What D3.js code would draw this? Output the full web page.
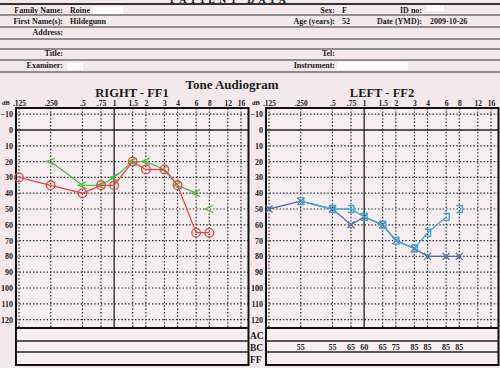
<!DOCTYPE html>
<html>
<head>
<meta charset="utf-8">
<script src="https://cdn.jsdelivr.net/npm/d3@7"></script>
<style>
  body { margin: 0; background: #f3e9ec; }
  svg { display: block; }
  text { font-family: "Liberation Serif", "DejaVu Serif", serif; font-weight: bold; fill: #1a1a1a; }
</style>
</head>
<body>
<svg id="chart"></svg>
<script>
// DATA
const freqs = [0.125, 0.25, 0.5, 0.75, 1, 1.5, 2, 3, 4, 6, 8, 12, 16];
const freqLabels = [".125", ".250", ".5", ".75", "1", "1.5", "2", "3", "4", "6", "8", "12", "16"];
const dbTicks = [-10, 0, 10, 20, 30, 40, 50, 60, 70, 80, 90, 100, 110, 120];
const rowLabels = ["AC", "BC", "FF"];

// right ear
const rightAcFreq = [0.125, 0.25, 0.5, 0.75, 1, 1.5, 2, 3, 4, 6, 8];
const rightAcDb = [30, 35, 40, 35, 35, 20, 25, 25, 35, 65, 65];
const rightBcFreq = [0.25, 0.5, 0.75, 1, 1.5, 2, 3, 4, 6];
const rightBcDb = [20, 35, 35, 30, 20, 20, 25, 35, 40];
const rightBcLoneFreq = [8];
const rightBcLoneDb = [50];

// left ear
const leftAcFreq = [0.125, 0.25, 0.5, 0.75, 1, 1.5, 2, 3, 4, 6, 8];
const leftAcDb = [50, 45, 50, 60, 55, 60, 70, 75, 80, 80, 80];
const leftBcFreq = [0.25, 0.5, 0.75, 1, 1.5, 2, 3, 4, 6];
const leftBcDb = [45, 50, 50, 55, 60, 70, 75, 65, 55];
const leftBcLoneFreq = [8];
const leftBcLoneDb = [50];

// BC row numbers under the left chart
const leftRowFreq = [0.25, 0.5, 0.75, 1, 1.5, 2, 3, 4, 6, 8];
const leftRowVals = [55, 55, 65, 60, 65, 75, 85, 85, 85, 85];

// header fields
const headerLeft = [
  { label: "Family Name:", value: "Roine", y: 13 },
  { label: "First Name(s):", value: "Hildegunn", y: 24 },
  { label: "Address:", value: "", y: 35 },
  { label: "Title:", value: "", y: 56 },
  { label: "Examiner:", value: "", y: 68 },
];
const headerMid = [
  { label: "Sex:", value: "F", y: 13 },
  { label: "Age (years):", value: "52", y: 24 },
  { label: "Tel:", value: "", y: 56 },
  { label: "Instrument:", value: "", y: 68 },
];
const headerRight = [
  { label: "ID no:", value: "", y: 13 },
  { label: "Date (YMD):", value: "2009-10-26", y: 24 },
];

// DIMENSIONS
const W = 500, H = 368;
const svg = d3.select("#chart").attr("width", W).attr("height", H);

const COLORS = {
  red: "#e04a45",
  green: "#55b848",
  dark: "#4c6ea8",
  light: "#3fa7dc",
  ink: "#222",
};

// HEADER
const hLines = [4, 15, 27, 39, 49, 60, 72];
svg.selectAll("line.hline")
  .data(hLines)
  .join("line")
  .attr("x1", 0).attr("x2", W)
  .attr("y1", (d) => d).attr("y2", (d) => d)
  .attr("stroke", "#333")
  .attr("stroke-width", (d, i) => (i === 0 ? 2 : 1.1));

// form title, cut off by the scan at the top edge
svg.append("text")
  .attr("x", 230).attr("y", 2.5)
  .attr("text-anchor", "middle")
  .attr("font-size", 10)
  .attr("letter-spacing", 4)
  .text("PATIENT DATA");

function headerCol(rows, labelX, valueX) {
  rows.forEach((r) => {
    svg.append("text").attr("x", labelX).attr("y", r.y)
      .attr("text-anchor", "end").attr("font-size", 8).text(r.label);
    if (r.value)
      svg.append("text").attr("x", valueX).attr("y", r.y)
        .attr("font-size", 8).text(r.value);
  });
}
headerCol(headerLeft, 63, 70);
headerCol(headerMid, 335, 342);
headerCol(headerRight, 422, 430);

// redaction boxes
const redact = [
  [93, 7, 30, 7], [427, 5, 17, 6], [67, 63, 16, 7], [337, 62, 71, 8],
];
svg.selectAll("rect.redact")
  .data(redact)
  .join("rect")
  .attr("x", (d) => d[0]).attr("y", (d) => d[1])
  .attr("width", (d) => d[2]).attr("height", (d) => d[3])
  .attr("fill", "#ffffff");

svg.append("text")
  .attr("x", 232).attr("y", 88.5)
  .attr("text-anchor", "middle")
  .attr("font-size", 13)
  .text("Tone Audiogram");

// SYMBOLS
function drawSymbols(g, pts, kind, color) {
  const s = g.selectAll(null).data(pts).join("g")
    .attr("transform", (d) => `translate(${d.x},${d.y})`);
  if (kind === "circle") {
    s.append("circle").attr("r", 4.3)
      .attr("fill", "none").attr("stroke", color).attr("stroke-width", 1.3);
  } else if (kind === "lt") {
    s.append("path").attr("d", "M4,-3.5L-4,0L4,3.5")
      .attr("fill", "none").attr("stroke", color).attr("stroke-width", 1.3);
  } else if (kind === "x") {
    s.append("path").attr("d", "M-3.5,-3.5L3.5,3.5M-3.5,3.5L3.5,-3.5")
      .attr("fill", "none").attr("stroke", color).attr("stroke-width", 1.3);
  } else if (kind === "bracket") {
    s.append("path").attr("d", "M-3,-3.5L3,-3.5L3,3.5L-3,3.5")
      .attr("fill", "none").attr("stroke", color).attr("stroke-width", 1.4);
  }
}

// PANEL
function drawPanel(ox, title, series, rowFreq, rowVals) {
  const g = svg.append("g").attr("transform", `translate(${ox},0)`);
  const x = d3.scaleLog().base(2).domain([0.125, 16]).range([19, 241]);
  const y = d3.scaleLinear().domain([-10, 120]).range([114.2, 319.6]);
  const box = { x0: 16, x1: 248.5, y0: 108, y1: 328, r1: 341, r2: 352, y2: 365 };

  g.append("rect")
    .attr("x", box.x0).attr("y", box.y0)
    .attr("width", box.x1 - box.x0).attr("height", box.y2 - box.y0)
    .attr("fill", "#f6eef0");

  // grid
  g.selectAll("line.hgrid").data(dbTicks).join("line")
    .attr("x1", box.x0).attr("x2", box.x1)
    .attr("y1", (d) => y(d)).attr("y2", (d) => y(d))
    .attr("stroke", COLORS.ink)
    .attr("stroke-width", (d) => (d === 0 ? 1.3 : 1.2))
    .attr("stroke-dasharray", (d) => (d === 0 ? null : "1.4,2"));
  g.selectAll("line.vgrid").data(freqs).join("line")
    .attr("x1", (d) => x(d)).attr("x2", (d) => x(d))
    .attr("y1", box.y0).attr("y2", box.y1)
    .attr("stroke", COLORS.ink)
    .attr("stroke-width", (d) => (d === 1 ? 1.3 : 1.2))
    .attr("stroke-dasharray", (d) => (d === 1 ? null : "1.4,2"));

  // box + rows
  g.append("rect")
    .attr("x", box.x0).attr("y", box.y0)
    .attr("width", box.x1 - box.x0).attr("height", box.y2 - box.y0)
    .attr("fill", "none").attr("stroke", "#111").attr("stroke-width", 2);
  g.append("line").attr("x1", box.x0).attr("x2", box.x1)
    .attr("y1", box.y1).attr("y2", box.y1).attr("stroke", "#111").attr("stroke-width", 2);
  [box.r1, box.r2].forEach((ry) =>
    g.append("line").attr("x1", box.x0).attr("x2", box.x1)
      .attr("y1", ry).attr("y2", ry).attr("stroke", "#222").attr("stroke-width", 1.3));

  // axes
  const xAxis = d3.axisTop(x).tickValues(freqs)
    .tickFormat((d, i) => freqLabels[i]).tickSize(0).tickPadding(0);
  const xa = g.append("g").attr("transform", "translate(0,106)").call(xAxis);
  const yAxis = d3.axisLeft(y).tickValues(dbTicks).tickSize(0).tickPadding(3);
  const ya = g.append("g").attr("transform", "translate(16,0)").call(yAxis);
  [xa, ya].forEach((a) => {
    a.select(".domain").remove();
    a.selectAll("text")
      .attr("font-family", "Liberation Serif, serif")
      .attr("font-weight", "bold")
      .attr("fill", "#1a1a1a");
  });
  xa.selectAll("text").attr("font-size", 7.5).attr("dy", 0);
  ya.selectAll("text").attr("font-size", 8);

  g.append("text").attr("x", 2).attr("y", 105).attr("font-size", 6.5).text("dB");

  g.append("text")
    .attr("x", 132).attr("y", 96.5)
    .attr("text-anchor", "middle")
    .attr("font-size", 12.5)
    .text(title);

  // series
  series.forEach((s) => {
    const pts = s.freq.map((f, i) => ({ x: x(f), y: y(s.db[i]) }));
    if (s.line) {
      g.append("path")
        .datum(pts)
        .attr("d", d3.line().x((d) => d.x).y((d) => d.y))
        .attr("fill", "none")
        .attr("stroke", s.color)
        .attr("stroke-width", 1.3);
    }
    drawSymbols(g, pts, s.kind, s.color);
  });

  if (ox > 0) {
    g.selectAll("text.rowlab").data(rowLabels).join("text")
      .attr("x", 0)
      .attr("y", (d, i) => [338.5, 350.5, 362.5][i])
      .attr("font-size", 9.5)
      .text((d) => d);
  }

  g.selectAll("text.rowval").data(rowVals).join("text")
    .attr("x", (d, i) => x(rowFreq[i]))
    .attr("y", 350)
    .attr("text-anchor", "middle")
    .attr("font-size", 8)
    .text((d) => d);
}

drawPanel(0, "RIGHT - FF1", [
  { freq: rightBcFreq, db: rightBcDb, color: COLORS.green, kind: "lt", line: true },
  { freq: rightBcLoneFreq, db: rightBcLoneDb, color: COLORS.green, kind: "lt", line: false },
  { freq: rightAcFreq, db: rightAcDb, color: COLORS.red, kind: "circle", line: true },
], [], []);

drawPanel(250, "LEFT - FF2", [
  { freq: leftAcFreq, db: leftAcDb, color: COLORS.dark, kind: "x", line: true },
  { freq: leftBcFreq, db: leftBcDb, color: COLORS.light, kind: "bracket", line: true },
  { freq: leftBcLoneFreq, db: leftBcLoneDb, color: COLORS.light, kind: "bracket", line: false },
], leftRowFreq, leftRowVals);
</script>
</body>
</html>
